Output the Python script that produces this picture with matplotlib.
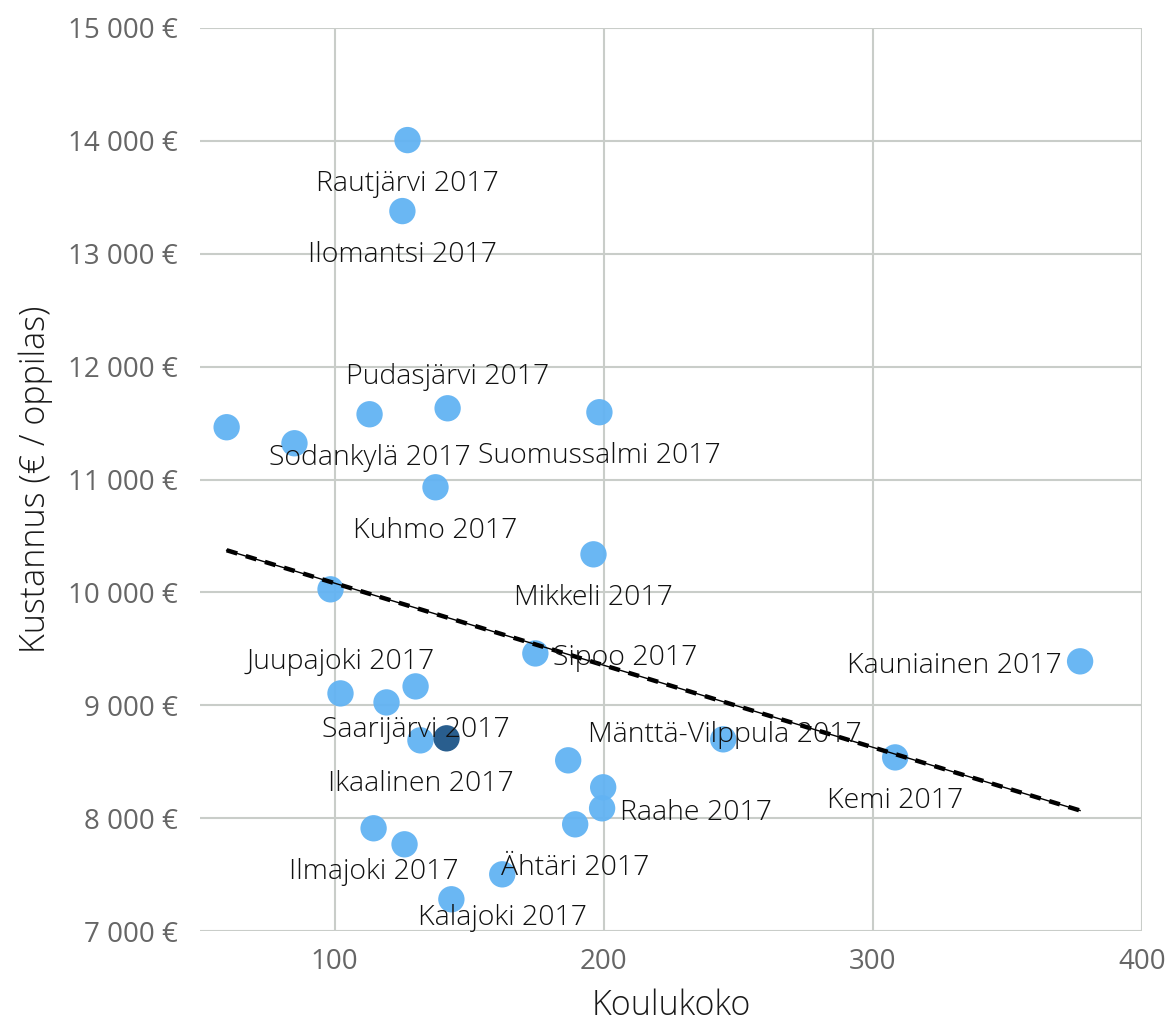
import numpy as np
import matplotlib.pyplot as plt
from matplotlib.ticker import FuncFormatter

plt.rcParams['font.family'] = ['Open Sans', 'DejaVu Sans']

# koulukoko (oppilaita) ja kustannus (€ / oppilas)
koko = [59.9, 85.1, 113.0, 142.0, 198.4, 127.1, 125.2, 137.5, 196.2, 98.5,
        174.6, 377.0, 102.2, 119.3, 130.1, 131.9, 141.6, 244.4, 308.3, 186.8,
        199.8, 199.4, 189.4, 114.5, 126.0, 162.3, 143.4]
kustannus = [11463, 11321, 11578, 11631, 11596, 14007, 13378, 10931, 10337, 10027,
             9459, 9389, 9105, 9025, 9167, 8689, 8707, 8698, 8538, 8512,
             8273, 8087, 7945, 7910, 7768, 7502, 7281]
nimet = ['', '', 'Sodankylä 2017', 'Pudasjärvi 2017', 'Suomussalmi 2017',
         'Rautjärvi 2017', 'Ilomantsi 2017', 'Kuhmo 2017', 'Mikkeli 2017', '',
         'Sipoo 2017', 'Kauniainen 2017', 'Juupajoki 2017', '', 'Saarijärvi 2017',
         'Ikaalinen 2017', '', 'Mänttä-Vilppula 2017', 'Kemi 2017', '',
         '', 'Raahe 2017', 'Ähtäri 2017', 'Ilmajoki 2017', '', 'Kalajoki 2017', '']
# tarkasteltava kunta (tumma pallo)
korostus = 16

# tekstin paikka pisteeseen nähden: b = alla, a = yllä, r = oikealla, l = vasemmalla, c = päällä
paikka = ['', '', 'b', 'a', 'b', 'b', 'b', 'b', 'b', '',
          'r', 'l', 'a', '', 'b', 'b', '', 'c', 'b', '',
          '', 'r', 'b', 'b', '', 'b', '']

x = np.array(koko)
y = np.array(kustannus)

fig = plt.figure(figsize=(11.69, 10.26), dpi=100)
ax = fig.add_axes([200/1169, 1-931/1026, 942/1169, 903/1026])

varit = ['#62b3f3'] * len(x)
varit[korostus] = '#1d5588'
ax.scatter(x, y, s=360, c=varit, alpha=0.95, linewidths=0, zorder=3)

# trendiviiva
k, b = np.polyfit(x, y, 1)
tx = np.array([x.min(), x.max()])
ax.plot(tx, k*tx + b, color='black', lw=1, zorder=4)
ax.plot(tx, k*tx + b, color='black', lw=3.2, dashes=(2.5, 2), zorder=4)

siirto = {'b': (0, -44, 'center'), 'a': (0, 31, 'center'), 'r': (18, -5, 'left'),
          'l': (-18, -5, 'right'), 'c': (2, 4, 'center')}
for xi, yi, n, p in zip(x, y, nimet, paikka):
    if not n:
        continue
    dx, dy, ha = siirto[p]
    ax.annotate(n, (xi, yi), xytext=(dx, dy), textcoords='offset pixels',
                ha=ha, va='center', fontsize=20.5, fontweight='light',
                color='#111111', zorder=5)

ax.set_xlim(50, 400)
ax.set_ylim(7000, 15000)
ax.set_xticks([100, 200, 300, 400])
ax.set_yticks(np.arange(7000, 15001, 1000))
ax.yaxis.set_major_formatter(FuncFormatter(lambda v, p: f'{int(v):,} €'.replace(',', ' ')))
ax.grid(True, color='#c9cdc9', lw=1.5, zorder=0)
ax.set_axisbelow(True)
for s in ax.spines.values():
    s.set_visible(False)
ax.tick_params(length=0, labelsize=20, labelcolor='#666666')
ax.tick_params(axis='y', pad=16)
ax.tick_params(axis='x', pad=12)

ax.set_xlabel('Koulukoko', fontsize=24.5, fontweight='light', color='#1a1a1a', labelpad=9)
ax.set_ylabel('Kustannus (€ / oppilas)', fontsize=24.5, fontweight='light', color='#1a1a1a', labelpad=11)

fig.savefig('out.png', dpi=100)
